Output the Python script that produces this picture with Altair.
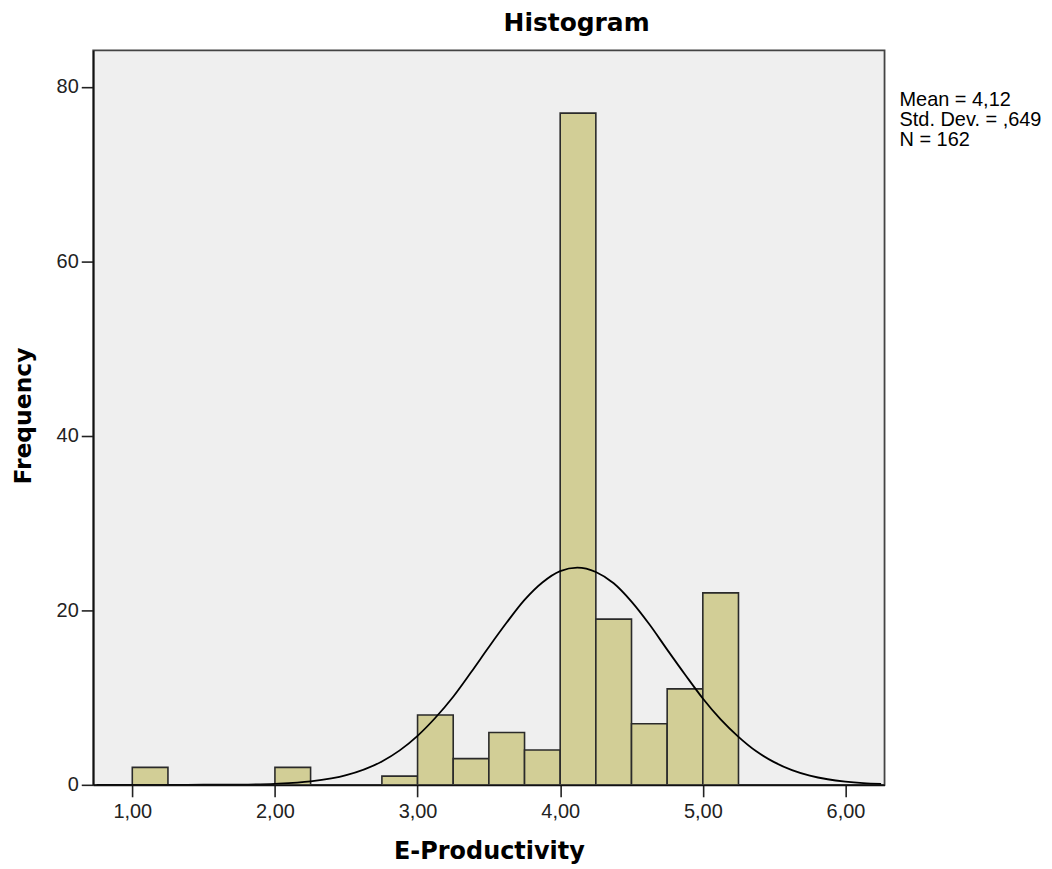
import altair as alt
import pandas as pd

# Histogram bins (lower edges) and frequencies
bin_start = [1.00, 2.00, 2.75, 3.00, 3.25, 3.50, 3.75, 4.00, 4.25, 4.50, 4.75, 5.00]
counts = [2, 2, 1, 8, 3, 6, 4, 77, 19, 7, 11, 22]
bin_width = 0.25

# Normal curve points
curve_x = [0.75, 1.00, 1.25, 1.50, 1.75, 2.00, 2.25, 2.50, 2.75, 2.875, 3.00, 3.125,
           3.25, 3.375, 3.50, 3.625, 3.75, 3.875, 4.00, 4.12, 4.25, 4.375, 4.50,
           4.625, 4.75, 4.875, 5.00, 5.125, 5.25, 5.375, 5.50, 5.625, 5.75, 5.875,
           6.00, 6.125, 6.25]
curve_y = [0.0, 0.0, 0.0, 0.01, 0.03, 0.12, 0.39, 1.1, 2.68, 3.95, 5.62, 7.69,
           10.1, 12.9, 15.8, 18.6, 21.2, 23.2, 24.5, 24.9, 24.4, 23.1, 21.0,
           18.4, 15.5, 12.65, 9.9, 7.5, 5.5, 3.84, 2.6, 1.69, 1.06, 0.64,
           0.37, 0.2, 0.11]

stats_lines = ["Mean = 4,12", "Std. Dev. = ,649", "N = 162"]
title_text = "Histogram"

x_ticks = [1, 2, 3, 4, 5, 6]
y_ticks = [0, 20, 40, 60, 80]

bars_df = pd.DataFrame({"start": bin_start, "count": counts})
bars_df["end"] = bars_df["start"] + bin_width
curve_df = pd.DataFrame({"x": curve_x, "y": curve_y})

W, H = 794, 737
XDOM = [0.726, 6.274]
YDOM = [0, 84.2]
FONT = "Liberation Sans"
BOLD = "DejaVu Sans"

xscale = alt.Scale(domain=XDOM, nice=False, zero=False)
yscale = alt.Scale(domain=YDOM, nice=False)

x_axis = alt.Axis(
    values=x_ticks,
    labelExpr="replace(format(datum.value, '.2f'), '.', ',')",
    title="E-Productivity",
    titleFont=BOLD, titleFontSize=24, titleFontWeight="bold", titleColor="black",
    titleX=W / 2, titleY=74, titleAnchor="middle", titleAlign="center",
    titleBaseline="alphabetic",
    labelFont=FONT, labelFontSize=20, labelColor="#222", labelPadding=5,
    tickSize=12, tickWidth=1.6, tickColor="#222",
    domainColor="#111", domainWidth=1.8, grid=False,
)
y_axis = alt.Axis(
    values=y_ticks,
    title="Frequency",
    titleFont=BOLD, titleFontSize=23.5, titleFontWeight="bold", titleColor="black",
    titleX=-70, titleY=H / 2 - 2, titleAngle=-90, titleAlign="center",
    titleBaseline="middle",
    labelFont=FONT, labelFontSize=20, labelColor="#222", labelPadding=3,
    tickSize=12, tickWidth=1.6, tickColor="#222",
    domainColor="#111", domainWidth=1.8, grid=False,
)

bars = alt.Chart(bars_df).mark_rect(
    fill="#D2CE96", stroke="#2a2a2a", strokeWidth=1.6, clip=True
).encode(
    x=alt.X("start:Q", scale=xscale, axis=x_axis),
    x2="end:Q",
    y=alt.Y("count:Q", scale=yscale, axis=y_axis),
    y2=alt.datum(0),
)

curve = alt.Chart(curve_df).mark_line(
    color="black", strokeWidth=1.8, interpolate="monotone", clip=True
).encode(
    x=alt.X("x:Q", scale=xscale),
    y=alt.Y("y:Q", scale=yscale),
)

stats_df = pd.DataFrame({"t": [stats_lines]})
stats = alt.Chart(stats_df).mark_text(
    align="left", baseline="alphabetic", font=FONT, fontSize=20,
    lineHeight=20, color="black",
).encode(
    x=alt.value(809), y=alt.value(56), text="t"
)

title_df = pd.DataFrame({"t": [title_text]})
title = alt.Chart(title_df).mark_text(
    align="center", baseline="alphabetic", font=BOLD, fontSize=25,
    fontWeight="bold", color="black",
).encode(
    x=alt.value(W / 2 + 88), y=alt.value(-19), text="t"
)

chart = alt.layer(bars, curve, stats, title).properties(
    width=W, height=H,
    autosize=alt.AutoSizeParams(type="none"),
    padding={"left": 85.5, "top": 41, "right": 160, "bottom": 80},
).configure_view(
    fill="#EFEFEF", stroke="#444444", strokeWidth=1.8
)

chart.save("out.html", embed_options={"renderer": "svg", "actions": False})
